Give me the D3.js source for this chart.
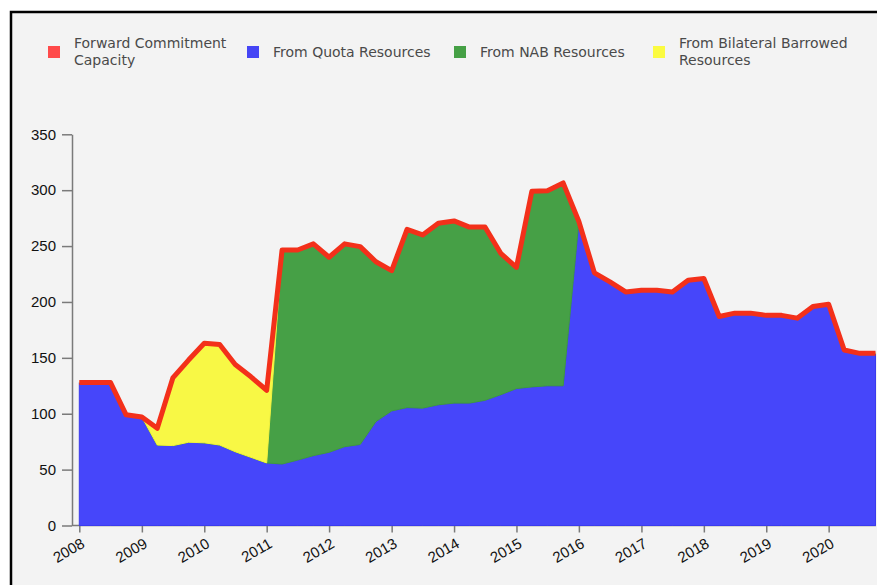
<!DOCTYPE html>
<html>
<head>
<meta charset="utf-8">
<script src="https://cdn.jsdelivr.net/npm/d3@7/dist/d3.min.js"></script>
<style>
  html, body { margin: 0; padding: 0; background: #ffffff; }
  svg { display: block; }
</style>
</head>
<body>
<svg id="chart" width="877" height="585"></svg>
<script>
// ---- Data (quarterly, billions) ----
const quarters = [
  "2008-01-01","2008-04-01","2008-07-01","2008-10-01",
  "2009-01-01","2009-04-01","2009-07-01","2009-10-01",
  "2010-01-01","2010-04-01","2010-07-01","2010-10-01",
  "2011-01-01","2011-04-01","2011-07-01","2011-10-01",
  "2012-01-01","2012-04-01","2012-07-01","2012-10-01",
  "2013-01-01","2013-04-01","2013-07-01","2013-10-01",
  "2014-01-01","2014-04-01","2014-07-01","2014-10-01",
  "2015-01-01","2015-04-01","2015-07-01","2015-10-01",
  "2016-01-01","2016-04-01","2016-07-01","2016-10-01",
  "2017-01-01","2017-04-01","2017-07-01","2017-10-01",
  "2018-01-01","2018-04-01","2018-07-01","2018-10-01",
  "2019-01-01","2019-04-01","2019-07-01","2019-10-01",
  "2020-01-01","2020-04-01","2020-07-01","2020-10-01"
];
const capacityValues = [
  128, 128, 128, 99,
  97, 87, 132, 148,
  163, 162, 144, 133,
  121, 246.5, 246.5, 252,
  240, 252, 249.5, 236,
  228, 265, 260, 270.5,
  272.5, 267, 267, 243.5,
  231, 299, 299.5, 306.5,
  272, 226, 218, 209,
  210.5, 210.5, 209, 219.5,
  221, 187, 190, 190,
  188, 188, 185.5, 196,
  198, 157, 154, 154
];
const quotaValues = [
  128, 128, 128, 99,
  97, 72, 71.5, 74.5,
  74, 72, 66, 61,
  56, 55, 58.5, 62.5,
  65.5, 70.5, 72.5, 93,
  102.5, 105.5, 105, 108,
  109.5, 109.5, 112, 117,
  122.5, 124, 125, 125,
  272, 226, 218, 209,
  210.5, 210.5, 209, 219.5,
  221, 187, 190, 190,
  188, 188, 185.5, 196,
  198, 157, 154, 154
];
const nabValues = [
  0, 0, 0, 0,
  0, 0, 0, 0,
  0, 0, 0, 0,
  0, 191.5, 188, 189.5,
  174.5, 181.5, 177, 143,
  125.5, 159.5, 155, 162.5,
  163, 157.5, 155, 126.5,
  108.5, 175, 174.5, 181.5,
  0, 0, 0, 0,
  0, 0, 0, 0,
  0, 0, 0, 0,
  0, 0, 0, 0,
  0, 0, 0, 0
];
const bilateralValues = [
  0, 0, 0, 0,
  0, 15, 60.5, 73.5,
  89, 90, 78, 72,
  65, 0, 0, 0,
  0, 0, 0, 0,
  0, 0, 0, 0,
  0, 0, 0, 0,
  0, 0, 0, 0,
  0, 0, 0, 0,
  0, 0, 0, 0,
  0, 0, 0, 0,
  0, 0, 0, 0,
  0, 0, 0, 0
];
const yTicks = [0, 50, 100, 150, 200, 250, 300, 350];
const xTickYears = [2008, 2009, 2010, 2011, 2012, 2013, 2014, 2015, 2016, 2017, 2018, 2019, 2020];
const legendLabels = [
  ["Forward Commitment", "Capacity"],
  ["From Quota Resources"],
  ["From NAB Resources"],
  ["From Bilateral Barrowed", "Resources"]
];

// ---- Styles ----
const colors = {
  capacity: "#f3301a",
  quota: "#4646fa",
  nab: "#46a046",
  bilateral: "#f8f845"
};
const strokeColors = { quota: "#3a3aee", nab: "#3f9a3f", bilateral: "#f2f240" };
const legendColors = ["#ff4a4a", "#4545f5", "#45a045", "#fbfb40"];

const parse = d3.timeParse("%Y-%m-%d");
const rows = quarters.map((q, i) => ({
  date: parse(q),
  quota: quotaValues[i],
  nab: nabValues[i],
  bilateral: bilateralValues[i],
  capacity: capacityValues[i]
}));

const svg = d3.select("#chart");

// background + frame
svg.append("rect").attr("x", 11).attr("y", 12).attr("width", 900).attr("height", 620)
  .attr("fill", "#f3f3f3").attr("stroke", "#000").attr("stroke-width", 2.5);

const x = d3.scaleTime()
  .domain([rows[0].date, rows[rows.length - 1].date])
  .range([79.3, 875.5]);
const y = d3.scaleLinear().domain([0, 350]).range([525.5, 134.3]);

const axisColor = "#7a7a7a";
const axisFont = "'Liberation Sans', Arial, sans-serif";

// x axis
const xAxis = d3.axisBottom(x)
  .tickValues(xTickYears.map(yr => new Date(yr, 0, 1)))
  .tickFormat(d3.timeFormat("%Y"))
  .tickSize(7)
  .tickSizeOuter(0);
const gx = svg.append("g").attr("transform", "translate(0,525.5)").call(xAxis);
gx.select(".domain").attr("d", "M72,0H876").attr("stroke", axisColor).attr("stroke-width", 1.5);
gx.selectAll(".tick line").attr("stroke", axisColor).attr("stroke-width", 1.5);
gx.selectAll(".tick text")
  .attr("font-family", axisFont)
  .attr("font-size", 15)
  .attr("fill", "#111")
  .attr("text-anchor", "end")
  .attr("y", 0).attr("dy", 0)
  .attr("transform", "translate(6,21) rotate(-30)");

// y axis
const yAxis = d3.axisLeft(y).tickValues(yTicks).tickSize(10).tickPadding(6).tickSizeOuter(0);
const gy = svg.append("g").attr("transform", "translate(72,0)").call(yAxis);
gy.select(".domain").attr("stroke", axisColor).attr("stroke-width", 1.5);
gy.selectAll(".tick line").attr("stroke", axisColor).attr("stroke-width", 1.5);
gy.selectAll(".tick text")
  .attr("font-family", axisFont)
  .attr("font-size", 15)
  .attr("fill", "#111");

// stacked areas
const keys = ["quota", "nab", "bilateral"];
const stack = d3.stack().keys(keys)(rows);
const area = d3.area()
  .x(d => x(d.data.date))
  .y0(d => y(d[0]))
  .y1(d => y(d[1]));

svg.append("g").selectAll("path").data(stack).join("path")
  .attr("d", area)
  .attr("fill", d => colors[d.key])
  .attr("stroke", d => strokeColors[d.key])
  .attr("stroke-width", 1);

// capacity line
const line = d3.line().x(d => x(d.date)).y(d => y(d.capacity));
svg.append("path").datum(rows)
  .attr("d", line)
  .attr("fill", "none")
  .attr("stroke", colors.capacity)
  .attr("stroke-width", 5)
  .attr("stroke-linejoin", "round");

// legend
const legendX = [48, 247, 454, 653];
const lg = svg.append("g");
legendLabels.forEach((lines, i) => {
  lg.append("rect").attr("x", legendX[i]).attr("y", 46).attr("width", 12).attr("height", 12)
    .attr("fill", legendColors[i]);
  const t = lg.append("text")
    .attr("font-family", "'DejaVu Sans', sans-serif")
    .attr("font-size", 14)
    .attr("fill", "#4a4a4a");
  const baseY = lines.length === 1 ? 57 : 47.5;
  lines.forEach((ln, j) => {
    t.append("tspan").attr("x", legendX[i] + 26).attr("y", baseY + j * 17).text(ln);
  });
});
</script>
</body>
</html>
